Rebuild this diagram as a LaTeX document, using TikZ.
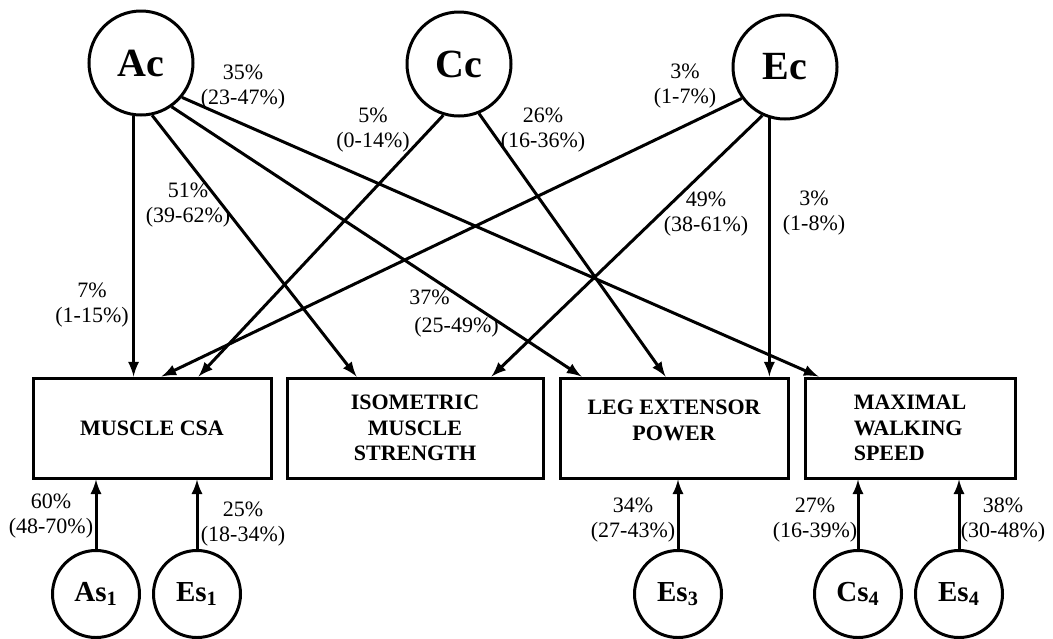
\documentclass[tikz,border=0pt]{standalone}
\usepackage{fontspec}
\setmainfont{Liberation Serif}
\usetikzlibrary{positioning,arrows,calc}
\tikzset{
  fac/.style ={circle, draw=black, line width=1.5pt, minimum size=52pt, inner sep=0pt,
               font=\fontsize{20}{20}\selectfont\bfseries},
  spc/.style ={circle, draw=black, line width=1.5pt, minimum size=43.5pt, inner sep=0pt,
               font=\fontsize{14.5}{14.5}\selectfont\bfseries},
  msr/.style ={rectangle, draw=black, line width=1.5pt, minimum height=50pt,
               align=center, inner sep=2pt, font=\fontsize{11}{12.8}\selectfont\bfseries},
  pth/.style ={-latex, line width=1.5pt},
  pct/.style ={align=center, inner sep=1pt, font=\fontsize{11}{12.5}\selectfont}
}

\begin{document}
\begin{tikzpicture}[x=0.5pt,y=-0.5pt]
  \useasboundingbox (0,0) rectangle (1053,638);

  % common factors
  \node[fac] (Ac) at (141,63) {Ac};
  \node[fac] (Cc) at (459,64) {Cc};
  \node[fac] (Ec) at (785,67) {Ec};

  % measured traits
  \node[msr,minimum width=119pt] (B1) at (152,428) {MUSCLE CSA};
  \node[msr,minimum width=128pt,right=6.5pt of B1] (B2) {ISOMETRIC\\MUSCLE\\STRENGTH};
  \node[msr,minimum width=114pt,right=7pt of B2,text depth=8pt] (B3) {LEG EXTENSOR\\POWER};
  \node[msr,minimum width=105pt,right=7pt of B3,align=left] (B4) {MAXIMAL\\WALKING\\SPEED};

  % specific factors
  \node[spc] (As1) at (96,594)  {As\textsubscript{1}};
  \node[spc] (Es1) at (197,594) {Es\textsubscript{1}};
  \node[spc] (Es3) at (678,594) {Es\textsubscript{3}};
  \node[spc] (Cs4) at (858,594) {Cs\textsubscript{4}};
  \node[spc] (Es4) at (959,594) {Es\textsubscript{4}};

  \draw[pth] (Ac.-98) -- (Ac.-98 |- B1.north);
  \draw[pth] (Ac.-78) -- ($(B2.north west)+(71,0)$);
  \draw[pth] (Ac.-55) -- ($(B3.north west)+(23,0)$);
  \draw[pth] (Ac.-40) -- ($(B4.north west)+(15,0)$);
  \draw[pth] (Cc.-107) -- ($(B1.north west)+(167,0)$);
  \draw[pth] (Cc.-68) -- ($(B3.north west)+(107,0)$);
  \draw[pth] (Ec.-144) -- ($(B1.north west)+(130,0)$);
  \draw[pth] (Ec.-115) -- ($(B2.north west)+(206,0)$);
  \draw[pth] (Ec.-107) -- (Ec.-107 |- B3.north);

  \draw[pth] (As1) -- (As1 |- B1.south);
  \draw[pth] (Es1) -- (Es1 |- B1.south);
  \draw[pth] (Es3) -- (Es3 |- B3.south);
  \draw[pth] (Cs4) -- (Cs4 |- B4.south);
  \draw[pth] (Es4) -- (Es4 |- B4.south);

  % path estimates
  \node[pct] (l35) at (243,87)  {35\%\\(23-47\%)};
  \node[pct] (l5)  at (373,130) {5\%\\(0-14\%)};
  \node[pct] (l26) at (543,130) {26\%\\(16-36\%)};
  \node[pct] (l3a) at (685,86)  {3\%\\(1-7\%)};
  \node[pct] (l51) at (188,205) {51\%\\(39-62\%)};
  \node[pct] (l7)  at (92,305)  {7\%\\(1-15\%)};
  \node[pct,align=left,anchor=west] (l37) at (407,314) {37\%\\[1.5pt]\hspace*{2.5pt}(25-49\%)};
  \node[pct] (l49) at (706,214) {49\%\\(38-61\%)};
  \node[pct] (l3b) at (814,213) {3\%\\(1-8\%)};
  \node[pct] (l60) at (51,516)  {60\%\\(48-70\%)};
  \node[pct] (l25) at (243,524) {25\%\\(18-34\%)};
  \node[pct] (l34) at (633,520) {34\%\\(27-43\%)};
  \node[pct] (l27) at (815,520) {27\%\\(16-39\%)};
  \node[pct] (l38) at (1003,520) {38\%\\(30-48\%)};
\end{tikzpicture}
\end{document}
